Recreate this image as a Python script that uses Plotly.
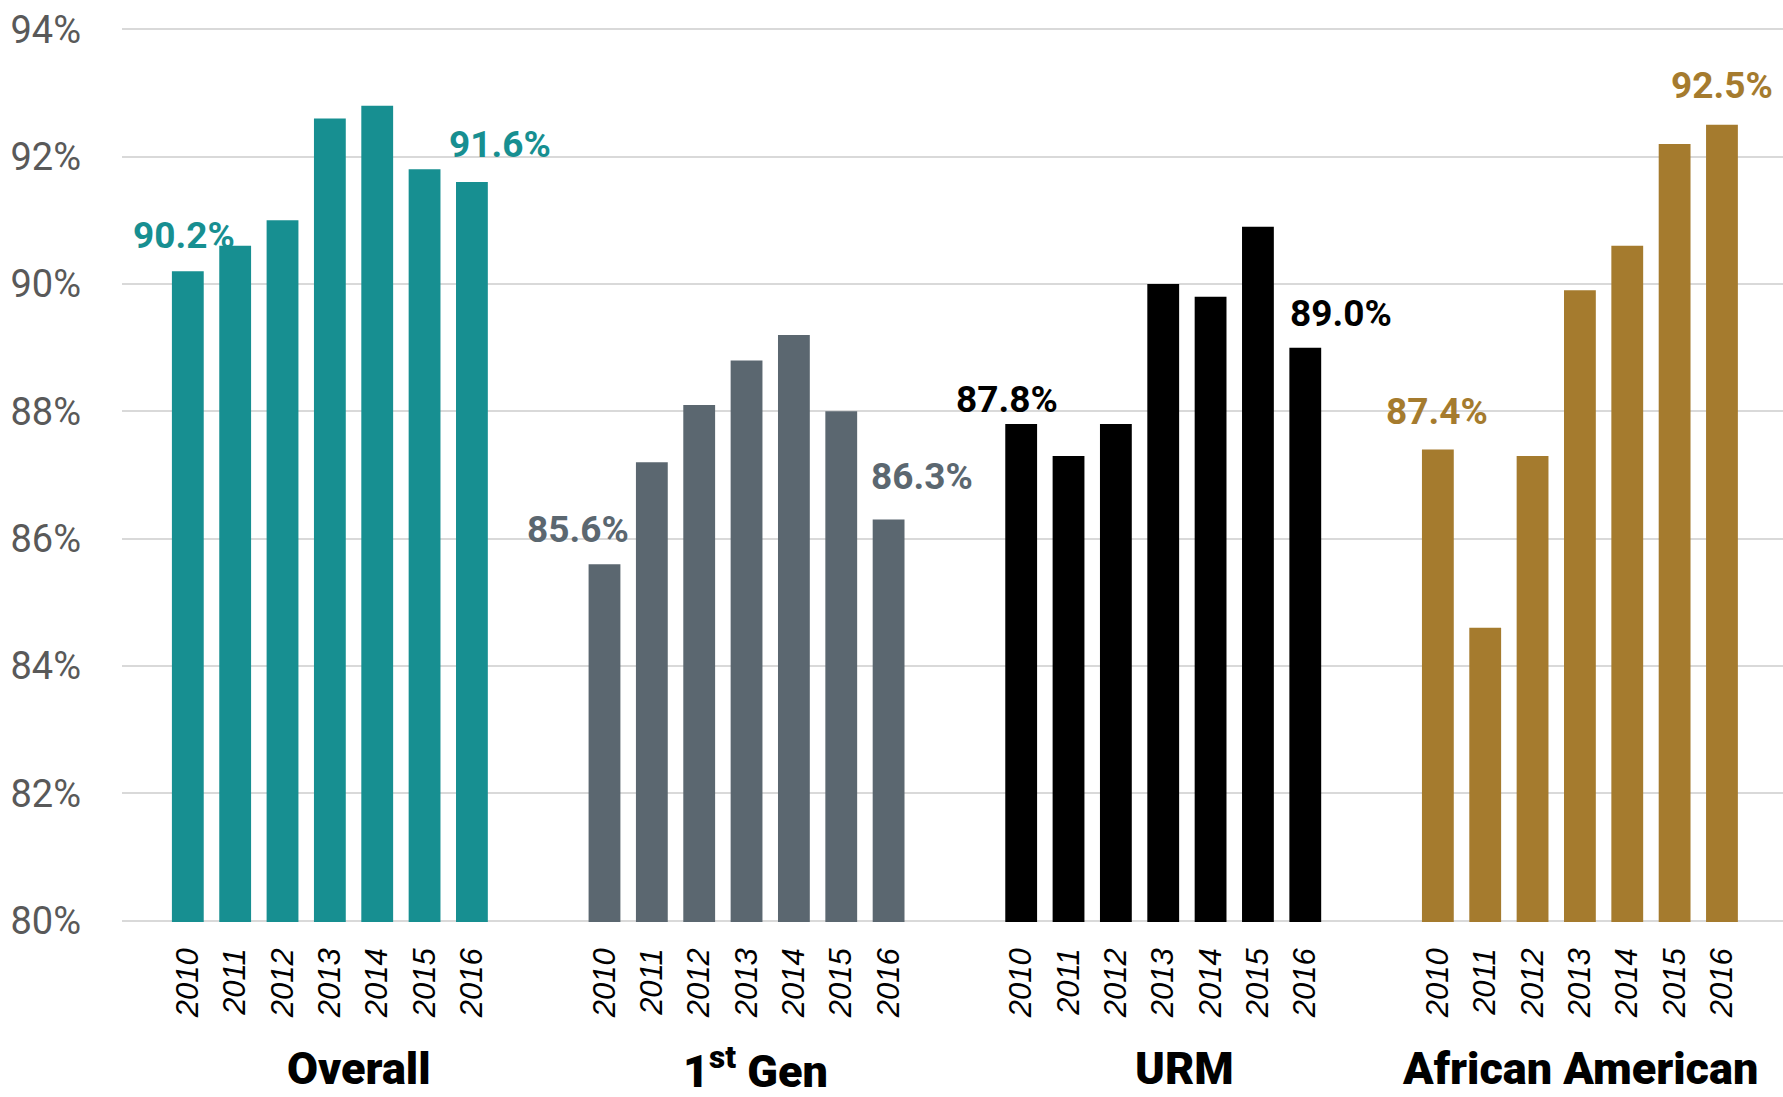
import plotly.graph_objects as go

# ---------------- data ----------------
years = ["2010", "2011", "2012", "2013", "2014", "2015", "2016"]
groups = ["Overall", "1<sup>st</sup> Gen", "URM", "African American"]
overall = [90.2, 90.6, 91.0, 92.6, 92.8, 91.8, 91.6]
first_gen = [85.6, 87.2, 88.1, 88.8, 89.2, 88.0, 86.3]
urm = [87.8, 87.3, 87.8, 90.0, 89.8, 90.9, 89.0]
african_american = [87.4, 84.6, 87.3, 89.9, 90.6, 92.2, 92.5]
y_ticks = [80, 82, 84, 86, 88, 90, 92, 94]

series = [overall, first_gen, urm, african_american]

# ---------------- styles ----------------
colors = ["#178f91", "#5b6770", "#000000", "#a57b2e"]
W, H = 1783, 1097
L, T, R = 122, 28, 0
B = H - 922
plot_w = W - L - R
slot = 47.35          # px per bar slot
pad_left = 1.39       # slots before first bar of each group
group_slots = 8.8     # slots per group

cond = "Roboto, Liberation Sans, sans-serif"
# data-label offsets (px) for first/last bar of each group: (dx, dy)
label_offsets = [[(-4, 36), (28, 38)],
                 [(-27, 35), (33, 43)],
                 [(-14, 25), (36, 34)],
                 [(-1, 38), (0, 39)]]
# group label centres (px from left of figure)
group_label_px = [359, 755, 1184, 1580]
group_label_drop = 146

fig = go.Figure()
layout_axes = {}
annotations = []
for i, (vals, col) in enumerate(zip(series, colors)):
    ax = "x" if i == 0 else f"x{i+1}"
    axkey = "xaxis" if i == 0 else f"xaxis{i+1}"
    d0 = i * group_slots * slot / plot_w
    d1 = min(1.0, (i + 1) * group_slots * slot / plot_w)
    span = (d1 - d0) * plot_w / slot
    fig.add_trace(go.Bar(x=years, y=vals, xaxis=ax, yaxis="y",
                         marker=dict(color=col, line=dict(width=0)),
                         showlegend=False, hoverinfo="x+y"))
    layout_axes[axkey] = dict(
        type="category", anchor="y", domain=[d0, d1],
        range=[-pad_left, -pad_left + span],
        tickangle=-90, showgrid=False, showline=False, zeroline=False,
        ticks="", ticklabelstandoff=19,
        tickfont=dict(family="Liberation Sans, Arial, sans-serif", size=31,
                      color="#000000", style="italic"),
    )
    for j, idx in enumerate([0, len(years) - 1]):
        dx, dy = label_offsets[i][j]
        annotations.append(dict(
            xref=ax, yref="y", x=idx, y=vals[idx],
            text=f"<b>{vals[idx]:.1f}%</b>", showarrow=False,
            xanchor="center", yanchor="middle", xshift=dx, yshift=dy,
            font=dict(family=cond, size=37, color=col)))
    annotations.append(dict(
        xref="paper", yref="paper",
        x=(group_label_px[i] - L) / plot_w, y=0,
        yshift=-group_label_drop, xanchor="center", yanchor="middle",
        text=groups[i], showarrow=False,
        font=dict(family=cond, size=45, color="#000000", weight=900)))

fig.update_layout(
    width=W, height=H,
    margin=dict(l=L, r=R, t=T, b=B, pad=0),
    paper_bgcolor="white", plot_bgcolor="white",
    bargap=0.328,
    yaxis=dict(range=[79.98, 94.02], tickvals=y_ticks,
               ticktext=[f"{v}%" for v in y_ticks],
               showgrid=True, gridcolor="#d9d9d9", gridwidth=2,
               showline=False, zeroline=False, ticks="",
               ticklabelstandoff=40, anchor="x", ticklabeloverflow="allow",
               tickfont=dict(family=cond, size=38, color="#595959")),
    annotations=annotations,
    **layout_axes,
)

fig.write_html("out.html",
               config={"displayModeBar": False},
               post_script="document.body.style.margin='0px';"
                           "document.body.style.overflow='hidden';")
